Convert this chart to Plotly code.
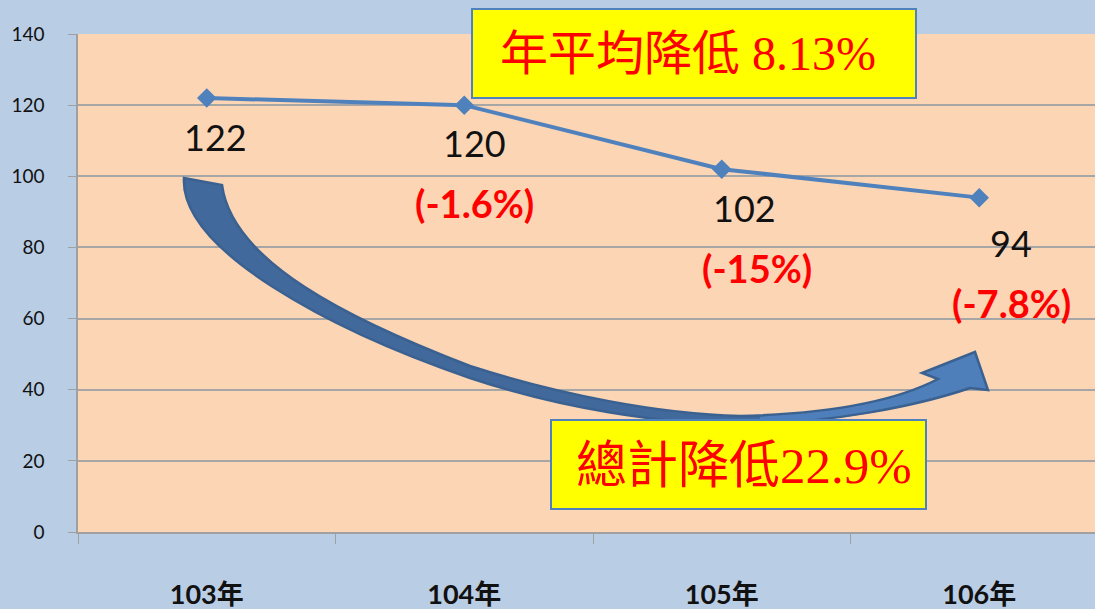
import plotly.graph_objects as go

# ---- data ----
years = ["103年", "104年", "105年", "106年"]
values = [122, 120, 102, 94]
value_labels = ["122", "120", "102", "94"]
change_labels = ["", "(-1.6%)", "(-15%)", "(-7.8%)"]
avg_text = "年平均降低 8.13%"
total_text = "總計降低22.9%"
y_ticks = [0, 20, 40, 60, 80, 100, 120, 140]

W, H = 1095, 609
ML, MR, MT, MB = 78, 0, 34, 77
PW, PH = W - ML - MR, H - MT - MB


def px(x):
    return (x - ML) / PW


def py(y):
    return (H - MB - y) / PH


fig = go.Figure()
fig.add_trace(go.Scatter(
    x=years, y=values, mode="lines+markers",
    line=dict(color="#4f81bd", width=4),
    marker=dict(symbol="diamond", size=15, color="#4f81bd"),
    hoverinfo="skip", showlegend=False,
))

# data labels
xshifts = [9, 10, 23, 32]
yshifts = [-39, -38, -39, -45]
annotations = []
for i, (yr, v) in enumerate(zip(years, values)):
    annotations.append(dict(
        x=yr, y=v, xref="x", yref="y", text=value_labels[i], showarrow=False,
        xshift=xshifts[i], yshift=yshifts[i],
        font=dict(family="Lato", size=36, color="#111111"),
    ))
    if change_labels[i]:
        annotations.append(dict(
            x=yr, y=v, xref="x", yref="y", text=change_labels[i], showarrow=False,
            xshift=xshifts[i] + (12 if i == 2 else 0), yshift=yshifts[i] - 60,
            font=dict(family="Lato", size=38, color="#ff0000", weight="bold"),
        ))

# boxes text
annotations.append(dict(
    x=px(688), y=py(53), xref="paper", yref="paper", text=avg_text, showarrow=False,
    font=dict(family="Liberation Serif, Noto Sans CJK TC", size=48, color="#ff0000"),
    xanchor="center", yanchor="middle",
))
annotations.append(dict(
    x=px(744), y=py(466), xref="paper", yref="paper", text=total_text, showarrow=False,
    font=dict(family="Liberation Serif, Noto Sans CJK TC", size=51, color="#ff0000"),
    xanchor="center", yanchor="middle",
))

# curved arrow path (decoration)
def P(x, y):
    return f"{px(x):.5f},{py(y):.5f}"

path = (
    f"M {P(184,178)} "
    f"C {P(180,250)} {P(330,330)} {P(470,378)} "
    f"C {P(560,408)} {P(660,424)} {P(740,424)} "
    f"C {P(830,424)} {P(920,405)} {P(970,388)} "
    f"L {P(988,390)} L {P(975,352)} L {P(922,373)} L {P(938,379)} "
    f"C {P(890,404)} {P(820,414)} {P(740,416)} "
    f"C {P(660,414)} {P(560,395)} {P(470,366)} "
    f"C {P(350,320)} {P(232,262)} {P(222,185)} Z"
)
head = (
    f"M {P(760,423.5)} "
    f"C {P(840,423)} {P(920,405)} {P(970,388)} "
    f"L {P(988,390)} L {P(975,352)} L {P(922,373)} L {P(938,379)} "
    f"C {P(890,404)} {P(830,413)} {P(760,415.5)} Z"
)

shapes = [
    dict(type="path", path=path, xref="paper", yref="paper",
         fillcolor="#42699b", line=dict(color="#385d8a", width=0), layer="above"),
    dict(type="path", path=head, xref="paper", yref="paper",
         fillcolor="#4e7fba", line=dict(color="#4e7fba", width=0), layer="above"),
    dict(type="path", path=path, xref="paper", yref="paper",
         fillcolor="rgba(0,0,0,0)", line=dict(color="#3a6190", width=2.5), layer="above"),
    dict(type="rect", xref="paper", yref="paper",
         x0=px(472), x1=px(916), y0=py(98), y1=py(9),
         fillcolor="#ffff00", line=dict(color="#4f81bd", width=2), layer="above"),
    dict(type="rect", xref="paper", yref="paper",
         x0=px(551), x1=px(926), y0=py(509), y1=py(420),
         fillcolor="#ffff00", line=dict(color="#4f81bd", width=2), layer="above"),
]

fig.update_layout(
    width=W, height=H,
    margin=dict(l=ML, r=MR, t=MT, b=MB),
    paper_bgcolor="#b9cde5",
    plot_bgcolor="#fcd5b5",
    shapes=shapes,
    annotations=annotations,
    showlegend=False,
)
fig.update_xaxes(
    type="category", range=[-0.5, 3.5 - (ML + 4 * 257.5 - W) / 257.5],
    showgrid=False, showline=True, linecolor="#a0a0a0", linewidth=1.5,
    ticks="outside", tickson="boundaries", ticklen=10, tickcolor="#a0a0a0",
    ticklabelstandoff=38,
    tickfont=dict(family="Lato, Noto Sans CJK TC", size=27, color="#111111", weight="bold"),
    fixedrange=True,
)
fig.update_yaxes(
    range=[0, 140], tickvals=y_ticks, showgrid=True, gridcolor="#a6a6a6", gridwidth=1.5,
    showline=True, linecolor="#a0a0a0", linewidth=1.5, zeroline=False,
    ticks="outside", ticklen=8, tickcolor="#a0a0a0", ticklabelstandoff=20,
    tickfont=dict(family="Lato", size=19, color="#111111"),
    fixedrange=True,
)

fig.write_html(
    "out.html",
    config={"displayModeBar": False},
    post_script="document.body.style.margin='0';document.body.style.overflow='hidden';",
)
